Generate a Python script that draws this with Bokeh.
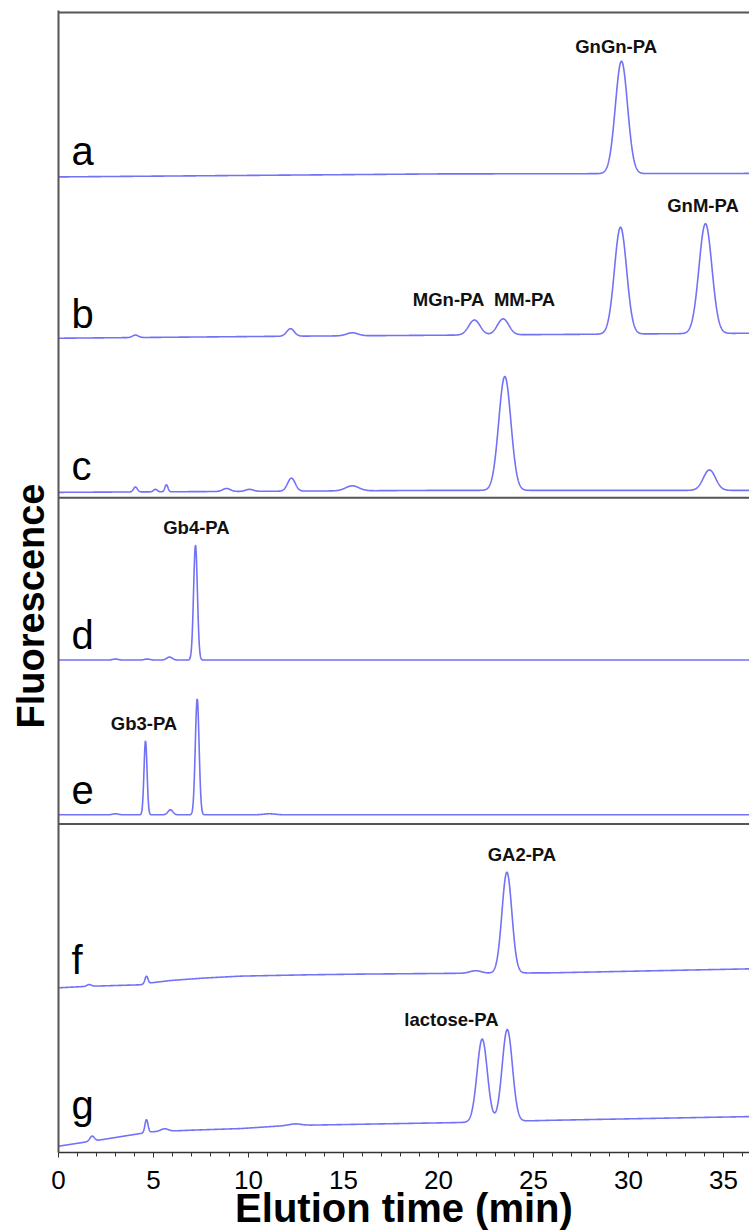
import numpy as np
from bokeh.plotting import figure
from bokeh.models import Span, Label, Range1d, FixedTicker, Title
from bokeh.embed import file_html
from bokeh.resources import INLINE

# ---------------- data ----------------
# retention time (min), peak height (a.u.), peak sigma (min); baseline drift points
a_rt = [29.63]
a_h = [112.6]
a_sd = [0.32]
a_base_t = [0, 10, 20, 36.4]
a_base_v = [0, 1.5, 3, 3.5]

b_rt = [4.05, 12.21, 15.46, 21.89, 23.4, 29.58, 34.05]
b_h = [2.5, 7.5, 3, 15, 16, 107, 110]
b_sd = [0.15, 0.2, 0.3, 0.3, 0.3, 0.32, 0.34]
b_base_t = [0, 12, 20, 36.4]
b_base_v = [0, 2, 3, 5]

c_rt = [4.05, 5.1, 5.68, 8.84, 10.05, 12.26, 15.46, 23.49, 34.26]
c_h = [5, 2.5, 7, 3, 2, 13, 5, 114, 20.5]
c_sd = [0.1, 0.1, 0.08, 0.2, 0.2, 0.2, 0.35, 0.32, 0.32]
c_base_t = [0, 20, 36.4]
c_base_v = [0, 2, 2]

d_rt = [3.0, 4.67, 5.84, 7.21]
d_h = [1, 1, 3, 115]
d_sd = [0.15, 0.15, 0.15, 0.1]
d_base_t = [0, 36.4]
d_base_v = [0, 0]

e_rt = [3.0, 4.58, 5.89, 7.3, 11.1]
e_h = [1, 74, 5, 116, 1]
e_sd = [0.15, 0.08, 0.13, 0.1, 0.3]
e_base_t = [0, 36.4]
e_base_v = [0, 0]

f_rt = [1.61, 4.63, 21.95, 23.6]
f_h = [1.7, 7.5, 2.5, 101]
f_sd = [0.12, 0.08, 0.3, 0.26]
f_base_t = [0, 1.6, 4.3, 4.9, 5.9, 7.6, 9.6, 13.1, 15.9, 21, 26, 36.4]
f_base_v = [0, 1.5, 3, 5, 7.3, 9.7, 11.7, 13, 13.7, 14.5, 15, 19]

g_rt = [1.77, 4.63, 5.58, 12.47, 22.3, 23.62]
g_h = [5, 13, 2.5, 1.5, 83, 92]
g_sd = [0.12, 0.08, 0.2, 0.3, 0.27, 0.27]
g_base_t = [0, 1.5, 2.1, 4.3, 4.9, 6.9, 9.6, 12, 15.9, 21, 26, 36.4]
g_base_v = [0, 4.4, 6, 12.7, 14.4, 16, 17.7, 20.7, 22, 23.7, 26, 29.7]

trace_names = ["a", "b", "c", "d", "e", "f", "g"]
peak_names = ["GnGn-PA", "GnM-PA", "MGn-PA", "MM-PA", "Gb4-PA", "Gb3-PA", "GA2-PA", "lactose-PA"]
x_ticks = [0, 5, 10, 15, 20, 25, 30, 35]

# ---------------- layout (stacking offsets, label places) ----------------
offsets = [977.3, 815.7, 661.3, 493.3, 338.3, 165.0, 6.3]
name_x = [0.68] * 7
name_y = [1003, 840, 688, 518, 363, 193, 48]
peak_lx = [29.35, 33.92, 20.53, 24.53, 7.26, 4.5, 24.39, 20.68]
peak_ly = [1108, 949, 854, 854, 626, 429.5, 299, 133]
separators = [1142, 656, 329]

X_END = 691 / 19.0
Y_END = 1144

p = figure(width=749, height=1232, output_backend="svg", toolbar_location=None,
           x_range=Range1d(0, X_END), y_range=Range1d(0, Y_END),
           min_border_left=58, min_border_right=0, min_border_top=10, min_border_bottom=78)
p.outline_line_color = None
p.xgrid.visible = False
p.ygrid.visible = False
p.background_fill_color = "white"

FONT = "Liberation Sans"

t = np.linspace(0, X_END, 3000)
traces = [
    (a_rt, a_h, a_sd, a_base_t, a_base_v),
    (b_rt, b_h, b_sd, b_base_t, b_base_v),
    (c_rt, c_h, c_sd, c_base_t, c_base_v),
    (d_rt, d_h, d_sd, d_base_t, d_base_v),
    (e_rt, e_h, e_sd, e_base_t, e_base_v),
    (f_rt, f_h, f_sd, f_base_t, f_base_v),
    (g_rt, g_h, g_sd, g_base_t, g_base_v),
]
for (rt, h, sd, bt, bv), off in zip(traces, offsets):
    y = off + np.interp(t, bt, bv)
    for r, hh, s in zip(rt, h, sd):
        y = y + hh * np.exp(-0.5 * ((t - r) / s) ** 2)
    p.line(t, y, line_color="#7272f6", line_width=1.6)

for yv in separators:
    p.add_layout(Span(location=yv, dimension="width", line_color="#555555", line_width=2))

for nm, xx, yy in zip(trace_names, name_x, name_y):
    p.add_layout(Label(x=xx, y=yy, text=nm, text_font=FONT, text_font_size="40px",
                       text_color="black", text_baseline="alphabetic", text_align="left"))

for nm, xx, yy in zip(peak_names, peak_lx, peak_ly):
    p.add_layout(Label(x=xx, y=yy, text=nm, text_font=FONT, text_font_size="18.5px",
                       text_font_style="bold", text_color="#111111",
                       text_baseline="middle", text_align="center"))

# x axis
xa = p.xaxis[0]
xa.ticker = FixedTicker(ticks=x_ticks, minor_ticks=list(range(0, 37)))
xa.major_label_text_font = FONT
xa.major_label_text_font_size = "26px"
xa.major_label_text_color = "black"
xa.major_label_standoff = 13
xa.axis_line_color = "#333333"
xa.axis_line_width = 1.5
xa.major_tick_line_color = "#333333"
xa.minor_tick_line_color = "#333333"
xa.major_tick_out = 5
xa.major_tick_in = 0
xa.minor_tick_out = 4
xa.minor_tick_in = 0
xa.axis_label = "Elution time (min)"
xa.axis_label_text_font = FONT
xa.axis_label_text_font_size = "40px"
xa.axis_label_text_font_style = "bold"
xa.axis_label_text_color = "black"
xa.axis_label_standoff = -6

# y axis: plain line
ya = p.yaxis[0]
ya.ticker = FixedTicker(ticks=[])
ya.major_tick_line_color = None
ya.minor_tick_line_color = None
ya.major_tick_out = 0
ya.major_tick_in = 0
ya.minor_tick_out = 0
ya.minor_tick_in = 0
ya.major_label_standoff = 0
ya.major_label_text_font_size = "0px"
ya.axis_line_color = "#555555"
ya.axis_line_width = 2

ytitle = Title(text="Fluorescence", align="left", offset=424, text_font=FONT,
               text_font_size="38px", text_font_style="bold", text_color="black", standoff=13)
p.add_layout(ytitle, "left")

open("out.html", "w").write(file_html(p, INLINE))
